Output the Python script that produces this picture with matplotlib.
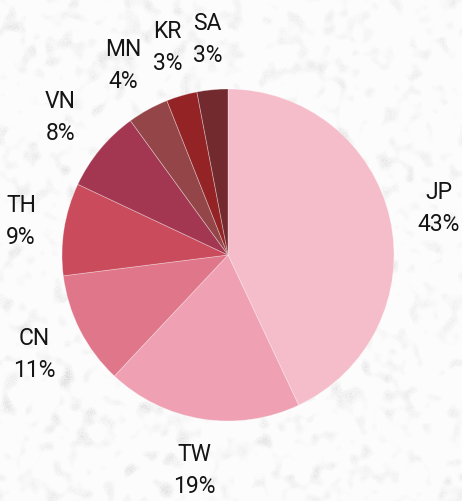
import numpy as np
import matplotlib
matplotlib.use("Agg")
import matplotlib.pyplot as plt

# ---- data ----
countries = ["JP", "TW", "CN", "TH", "VN", "MN", "KR", "SA"]
shares = [43, 19, 11, 9, 8, 4, 3, 3]
colors = ["#F5BDCA", "#EFA0B2", "#E07689", "#C94B5C", "#A33650", "#944548", "#942326", "#722A2E"]

W, H, DPI = 462, 502, 100
fig = plt.figure(figsize=(W / DPI, H / DPI), dpi=DPI)
fig.patch.set_facecolor("#fbfbfb")

# paper-like background texture (decoration only)
rng = np.random.default_rng(7)
noise = rng.random((H, W))
k = np.fft.fftfreq(H)[:, None] ** 2 + np.fft.fftfreq(W)[None, :] ** 2
smooth = np.real(np.fft.ifft2(np.fft.fft2(noise) * np.exp(-k * 250)))
smooth = (smooth - smooth.mean()) / smooth.std()
fine = rng.random((H, W))
tex = 0.99 - 0.03 * np.clip(smooth - 0.3, 0, None) * (0.5 + 0.8 * fine)
tex = np.clip(tex, 0.88, 1.0)
img = np.dstack([tex, tex, tex])
fig.figimage(img, xo=0, yo=0, origin="upper", zorder=0)

R = 166.0
cx, cy = 228.0, 256.0
ax = fig.add_axes([0, 0, 1, 1])
ax.set_zorder(2)
ax.patch.set_alpha(0)

labels = [f"{c}\n{s}%" for c, s in zip(countries, shares)]
wedges, texts = ax.pie(
    shares,
    labels=labels,
    colors=colors,
    startangle=90,
    counterclock=False,
    labeldistance=1.31,
    wedgeprops=dict(edgecolor=(1, 1, 1, 0.35), linewidth=0.6),
    textprops=dict(fontsize=16.5, color="#141414",
                   family=["Liberation Sans Narrow", "Roboto", "DejaVu Sans"]),
)
for t in texts:
    t.set_horizontalalignment("center")
    t.set_verticalalignment("center")
    t.set_multialignment("center")
    t.set_linespacing(1.5)

ax.set_xlim(-cx / R, (W - cx) / R)
ax.set_ylim(-(H - cy) / R, cy / R)
ax.set_aspect("auto")
ax.axis("off")

# keep labels inside the canvas
fig.canvas.draw()
renderer = fig.canvas.get_renderer()
inv = ax.transData.inverted()
for t in texts:
    bb = t.get_window_extent(renderer)
    shift = 0.0
    if bb.x0 < 6:
        shift = 6 - bb.x0
    elif bb.x1 > W - 2:
        shift = (W - 2) - bb.x1
    if shift:
        x, y = t.get_position()
        t.set_position((x + shift / R, y))

fig.savefig("out.png", dpi=DPI)
